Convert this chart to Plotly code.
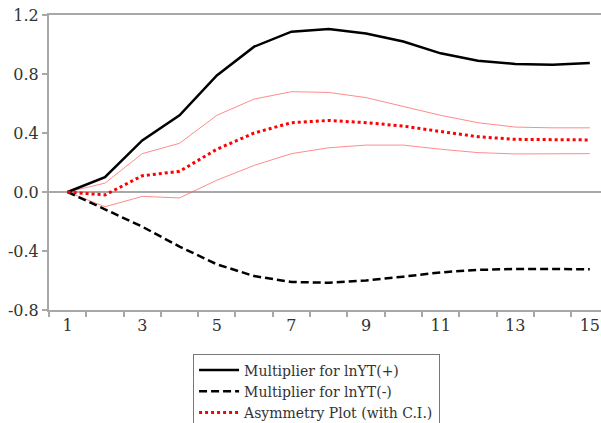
import plotly.graph_objects as go

periods = list(range(1, 16))
mult_pos = [0.0, 0.10, 0.35, 0.52, 0.79, 0.985, 1.087, 1.105, 1.075, 1.02, 0.94, 0.89, 0.868, 0.863, 0.875]
mult_neg = [0.0, -0.12, -0.235, -0.37, -0.49, -0.57, -0.61, -0.615, -0.60, -0.574, -0.545, -0.528, -0.522, -0.522, -0.524]
asym = [0.0, -0.02, 0.11, 0.14, 0.29, 0.40, 0.47, 0.485, 0.47, 0.447, 0.41, 0.375, 0.357, 0.355, 0.353]
ci_upper = [0.0, 0.06, 0.26, 0.33, 0.52, 0.63, 0.68, 0.675, 0.64, 0.58, 0.52, 0.47, 0.44, 0.435, 0.435]
ci_lower = [0.0, -0.10, -0.03, -0.04, 0.08, 0.18, 0.26, 0.30, 0.318, 0.318, 0.29, 0.267, 0.258, 0.26, 0.26]

x_tick_vals = [1, 3, 5, 7, 9, 11, 13, 15]
x_tick_text = [str(v) for v in x_tick_vals]
x_minor_vals = [v + 0.5 for v in range(0, 16)]
y_tick_vals = [-0.8, -0.4, 0.0, 0.4, 0.8, 1.2]
y_tick_text = ["-0.8", "-0.4", "0.0", "0.4", "0.8", "1.2"]

serif = "DejaVu Serif, Liberation Serif, serif"
axis_gray = "#a8a8a8"
text_color = "#333"

fig = go.Figure()
fig.add_trace(go.Scatter(x=periods, y=ci_upper, mode="lines", showlegend=False,
                         line=dict(color="rgba(255,90,90,0.7)", width=1), hoverinfo="skip"))
fig.add_trace(go.Scatter(x=periods, y=ci_lower, mode="lines", showlegend=False,
                         line=dict(color="rgba(255,90,90,0.7)", width=1), hoverinfo="skip"))
fig.add_trace(go.Scatter(x=periods, y=mult_pos, mode="lines", name="Multiplier for lnYT(+)",
                         line=dict(color="black", width=2.5)))
fig.add_trace(go.Scatter(x=periods, y=mult_neg, mode="lines", name="Multiplier for lnYT(-)",
                         line=dict(color="black", width=2.5, dash="8px,4px")))
fig.add_trace(go.Scatter(x=periods, y=asym, mode="lines", name="Asymmetry Plot (with C.I.)",
                         line=dict(color="red", width=3, dash="3px,3px")))

fig.update_layout(
    width=601, height=423,
    margin=dict(l=49, r=0, t=15, b=113, autoexpand=False),
    plot_bgcolor="white", paper_bgcolor="white",
    font=dict(family=serif, size=16, color=text_color),
    xaxis=dict(range=[0.5, 15.3], tickmode="array", tickvals=x_tick_vals, ticktext=x_tick_text,
               ticks="", showgrid=False, zeroline=False, automargin=False,
               showline=True, mirror=True, linecolor=axis_gray, linewidth=2,
               minor=dict(tickmode="array", tickvals=x_minor_vals, ticks="outside",
                          ticklen=5, tickcolor=axis_gray, tickwidth=1.5, showgrid=False),
               tickfont=dict(family=serif, size=16, color=text_color)),
    yaxis=dict(range=[-0.8, 1.2], tickmode="array", tickvals=y_tick_vals, ticktext=y_tick_text,
               ticks="outside", ticklen=5, tickcolor=axis_gray, tickwidth=1.5, automargin=False,
               showgrid=False, zeroline=True, zerolinecolor=axis_gray, zerolinewidth=1.5,
               showline=True, mirror=False, linecolor=axis_gray, linewidth=2,
               tickfont=dict(family=serif, size=16, color=text_color)),
    legend=dict(x=0.261, y=-0.1475, xanchor="left", yanchor="top",
                bordercolor="#777", borderwidth=1, bgcolor="white",
                font=dict(family=serif, size=14, color=text_color),
                tracegroupgap=0, itemwidth=40),
    showlegend=True,
)

fig.write_html("out.html", config={"displayModeBar": False},
               post_script="document.body.style.margin='0';document.body.style.overflow='hidden';")
